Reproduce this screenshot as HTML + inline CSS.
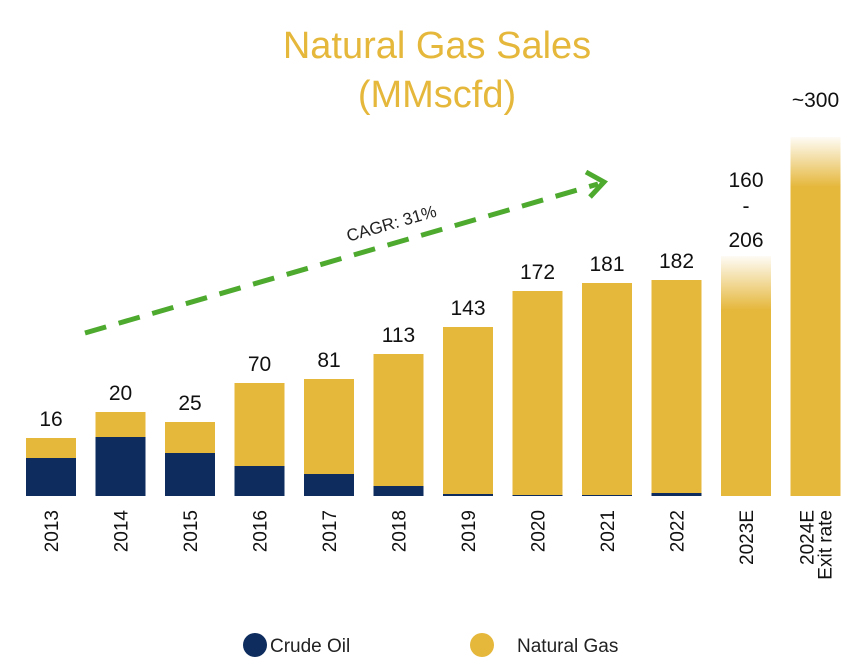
<!DOCTYPE html>
<html><head><meta charset="utf-8"><style>
body{margin:0;background:#fff;}
svg{display:block;font-family:"Liberation Sans",sans-serif;}
</style></head><body>
<svg id="chart" width="866" height="672">
<defs>
<linearGradient id="fade" x1="0" y1="1" x2="0" y2="0">
<stop offset="0" stop-color="#E5B73B"/><stop offset="1" stop-color="#E5B73B" stop-opacity="0.05"/>
</linearGradient>
</defs>
<text x="437" y="58" text-anchor="middle" font-size="38" fill="#E5B73B">Natural Gas Sales</text>
<text x="437" y="107" text-anchor="middle" font-size="38" fill="#E5B73B">(MMscfd)</text>
<g id="bars"></g>
<g>
<line x1="85" y1="333" x2="598" y2="184" stroke="#4DAA2E" stroke-width="5" stroke-dasharray="22,13"/>
<polyline points="586,172 604,182 590,197" fill="none" stroke="#4DAA2E" stroke-width="5"/>
<text x="393" y="229" text-anchor="middle" font-size="17" fill="#222" transform="rotate(-16 393 229)">CAGR: 31%</text>
</g>
<g>
<circle cx="255" cy="645" r="12" fill="#0E2D5E"/>
<text x="270" y="652" font-size="19" fill="#222">Crude Oil</text>
<circle cx="482" cy="645" r="12" fill="#E5B73B"/>
<text x="517" y="652" font-size="19" fill="#222">Natural Gas</text>
</g>
</svg>
<script>
const categories=["2013","2014","2015","2016","2017","2018","2019","2020","2021","2022","2023E","2024E"];
const totalVolume=[58,84,74,113,117,142,169,205,213,216,186,309];
const crudeVolume=[38,59,43,30,22,10,2,1,1,3,0,0];
const rangeUpper=[0,0,0,0,0,0,0,0,0,0,240,359];
const valueLabels=["16","20","25","70","81","113","143","172","181","182","",""];
const NS="http://www.w3.org/2000/svg";
const g=document.getElementById("bars");
const baseY=496, scaleY=1, x0=26, step=69.5, bw=50;
function xPos(i){return x0+i*step;}
function yPos(v){return baseY-v*scaleY;}
function mk(tag,attrs){const e=document.createElementNS(NS,tag);for(const k in attrs)e.setAttribute(k,attrs[k]);g.appendChild(e);return e;}
categories.forEach((c,i)=>{
  const x=xPos(i);
  if(rangeUpper[i]>0){
    const r=mk("rect",{x:x,y:yPos(rangeUpper[i]),width:bw,height:(rangeUpper[i]-totalVolume[i])*scaleY,fill:"url(#fade)"});
    
    
  }
  const gas=mk("rect",{x:x,y:yPos(totalVolume[i]),width:bw,height:(totalVolume[i]-crudeVolume[i])*scaleY,fill:"#E5B73B"});
  
  
  if(crudeVolume[i]>0){
    const oil=mk("rect",{x:x,y:yPos(crudeVolume[i]),width:bw,height:crudeVolume[i]*scaleY,fill:"#0E2D5E"});
    
    
  }
  if(valueLabels[i]){
    const t=mk("text",{x:x+bw/2,y:yPos(totalVolume[i])-12,"text-anchor":"middle","font-size":"21",fill:"#111"});
    t.textContent=valueLabels[i];
    
    
  }
  const cx=x+bw/2;
  if(c==="2024E"){
    const t=mk("text",{x:0,y:0,"text-anchor":"end","font-size":"19",fill:"#111",transform:`translate(${cx-2},510) rotate(-90)`});
    t.textContent="2024E";
    
    
    const t2=mk("text",{x:0,y:0,"text-anchor":"end","font-size":"19",fill:"#111",transform:`translate(${cx+16},510) rotate(-90)`});
    t2.textContent="Exit rate";
    
    
  } else {
    const t=mk("text",{x:0,y:0,"text-anchor":"end","font-size":"19",fill:"#111",transform:`translate(${cx+7},510) rotate(-90)`});
    t.textContent=c;
    
    
  }
});
[["160",187],["-",213],["206",247]].forEach((p,k)=>{
  const t=mk("text",{x:xPos(10)+bw/2,y:p[1],"text-anchor":"middle","font-size":"21",fill:"#111"});
  t.textContent=p[0];
  
  
});
const t=mk("text",{x:xPos(11)+bw/2,y:107,"text-anchor":"middle","font-size":"21",fill:"#111"});
t.textContent="~300";


</script>
</body></html>
